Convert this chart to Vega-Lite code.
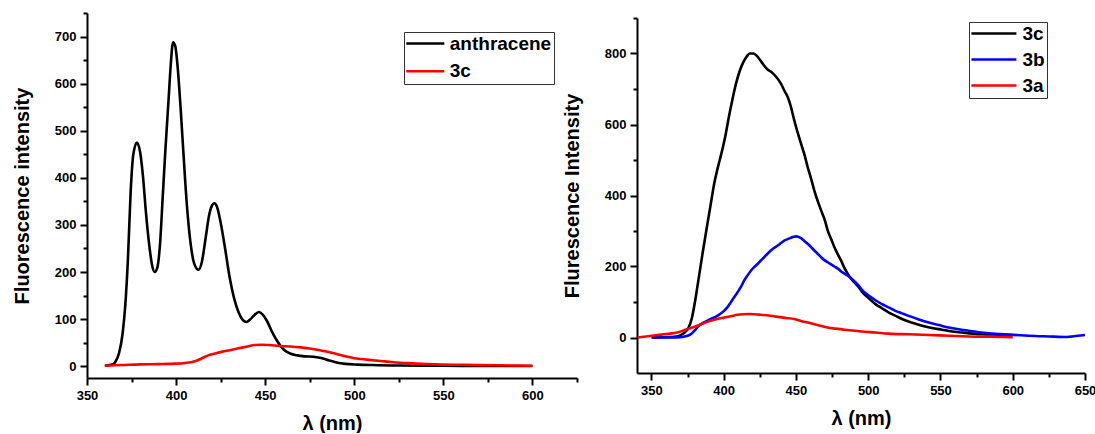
{
  "$schema": "https://vega.github.io/schema/vega-lite/v6.json",
  "padding": {"left": 12, "top": 12, "right": 0, "bottom": 0},
  "bounds": "flush",
  "center": true,
  "spacing": 60,
  "resolve": {"scale": {"color": "independent"}, "legend": {"color": "independent"}},
  "config": {
    "font": "Liberation Sans",
    "view": {"stroke": null},
    "axis": {
      "grid": false,
      "domainColor": "black", "domainWidth": 2,
      "tickColor": "black", "tickWidth": 2, "tickSize": 7,
      "labelFont": "Liberation Sans", "labelFontWeight": "bold", "labelFontSize": 13, "labelColor": "black", "labelPadding": 4,
      "titleFont": "Liberation Sans", "titleFontWeight": "bold", "titleFontSize": 20, "titleColor": "black"
    },
    "legend": {
      "labelFont": "Liberation Sans", "labelFontWeight": "bold", "labelFontSize": 19, "labelColor": "black",
      "strokeColor": "#333333", "strokeWidth": 1, "padding": 2,
      "symbolSize": 100, "symbolStrokeWidth": 2.5, "title": null
    }
  },
  "datasets": {
    "left": [
      {"nm": 360, "I": 1, "series": "anthracene"},
      {"nm": 364.7, "I": 4, "series": "anthracene"},
      {"nm": 366, "I": 10, "series": "anthracene"},
      {"nm": 368, "I": 28, "series": "anthracene"},
      {"nm": 370, "I": 70, "series": "anthracene"},
      {"nm": 371.5, "I": 130, "series": "anthracene"},
      {"nm": 373, "I": 230, "series": "anthracene"},
      {"nm": 374.5, "I": 370, "series": "anthracene"},
      {"nm": 376, "I": 450, "series": "anthracene"},
      {"nm": 378, "I": 475, "series": "anthracene"},
      {"nm": 379.8, "I": 455, "series": "anthracene"},
      {"nm": 381.5, "I": 400, "series": "anthracene"},
      {"nm": 383, "I": 330, "series": "anthracene"},
      {"nm": 385, "I": 255, "series": "anthracene"},
      {"nm": 386.5, "I": 215, "series": "anthracene"},
      {"nm": 388, "I": 200, "series": "anthracene"},
      {"nm": 389.5, "I": 210, "series": "anthracene"},
      {"nm": 391, "I": 260, "series": "anthracene"},
      {"nm": 392.5, "I": 360, "series": "anthracene"},
      {"nm": 394, "I": 460, "series": "anthracene"},
      {"nm": 395.8, "I": 567, "series": "anthracene"},
      {"nm": 397, "I": 640, "series": "anthracene"},
      {"nm": 398.3, "I": 688, "series": "anthracene"},
      {"nm": 399.5, "I": 680, "series": "anthracene"},
      {"nm": 401, "I": 630, "series": "anthracene"},
      {"nm": 402.5, "I": 550, "series": "anthracene"},
      {"nm": 404, "I": 460, "series": "anthracene"},
      {"nm": 406, "I": 345, "series": "anthracene"},
      {"nm": 408, "I": 265, "series": "anthracene"},
      {"nm": 410, "I": 220, "series": "anthracene"},
      {"nm": 412.5, "I": 205, "series": "anthracene"},
      {"nm": 414.5, "I": 222, "series": "anthracene"},
      {"nm": 416.5, "I": 270, "series": "anthracene"},
      {"nm": 418.5, "I": 320, "series": "anthracene"},
      {"nm": 420, "I": 340, "series": "anthracene"},
      {"nm": 421.5, "I": 346, "series": "anthracene"},
      {"nm": 423, "I": 338, "series": "anthracene"},
      {"nm": 425, "I": 305, "series": "anthracene"},
      {"nm": 427.5, "I": 250, "series": "anthracene"},
      {"nm": 430, "I": 190, "series": "anthracene"},
      {"nm": 432.5, "I": 145, "series": "anthracene"},
      {"nm": 435, "I": 115, "series": "anthracene"},
      {"nm": 437.5, "I": 98, "series": "anthracene"},
      {"nm": 439.5, "I": 94, "series": "anthracene"},
      {"nm": 441.5, "I": 99, "series": "anthracene"},
      {"nm": 444, "I": 109, "series": "anthracene"},
      {"nm": 446.5, "I": 115, "series": "anthracene"},
      {"nm": 448.5, "I": 110, "series": "anthracene"},
      {"nm": 451, "I": 96, "series": "anthracene"},
      {"nm": 454, "I": 72, "series": "anthracene"},
      {"nm": 457, "I": 52, "series": "anthracene"},
      {"nm": 460.5, "I": 35, "series": "anthracene"},
      {"nm": 464, "I": 27, "series": "anthracene"},
      {"nm": 468, "I": 23, "series": "anthracene"},
      {"nm": 472, "I": 21, "series": "anthracene"},
      {"nm": 477, "I": 20, "series": "anthracene"},
      {"nm": 482, "I": 17, "series": "anthracene"},
      {"nm": 486, "I": 12, "series": "anthracene"},
      {"nm": 490, "I": 8, "series": "anthracene"},
      {"nm": 495, "I": 5, "series": "anthracene"},
      {"nm": 502, "I": 3.5, "series": "anthracene"},
      {"nm": 510, "I": 2.5, "series": "anthracene"},
      {"nm": 525, "I": 1.5, "series": "anthracene"},
      {"nm": 550, "I": 1, "series": "anthracene"},
      {"nm": 575, "I": 0.5, "series": "anthracene"},
      {"nm": 600, "I": 0.5, "series": "anthracene"},
      {"nm": 360, "I": 1, "series": "3c"},
      {"nm": 370, "I": 2.5, "series": "3c"},
      {"nm": 380, "I": 4, "series": "3c"},
      {"nm": 390, "I": 4.5, "series": "3c"},
      {"nm": 400, "I": 5.5, "series": "3c"},
      {"nm": 405, "I": 7, "series": "3c"},
      {"nm": 410, "I": 10, "series": "3c"},
      {"nm": 414, "I": 16, "series": "3c"},
      {"nm": 418, "I": 23, "series": "3c"},
      {"nm": 422, "I": 27, "series": "3c"},
      {"nm": 426, "I": 31, "series": "3c"},
      {"nm": 430, "I": 34, "series": "3c"},
      {"nm": 435, "I": 38, "series": "3c"},
      {"nm": 440, "I": 42, "series": "3c"},
      {"nm": 444, "I": 45, "series": "3c"},
      {"nm": 448, "I": 45.5, "series": "3c"},
      {"nm": 452, "I": 45, "series": "3c"},
      {"nm": 458, "I": 43, "series": "3c"},
      {"nm": 464, "I": 42, "series": "3c"},
      {"nm": 470, "I": 40, "series": "3c"},
      {"nm": 476, "I": 37, "series": "3c"},
      {"nm": 482, "I": 33, "series": "3c"},
      {"nm": 488, "I": 28, "series": "3c"},
      {"nm": 494, "I": 22, "series": "3c"},
      {"nm": 500, "I": 17, "series": "3c"},
      {"nm": 507, "I": 14, "series": "3c"},
      {"nm": 515, "I": 11, "series": "3c"},
      {"nm": 522, "I": 8.5, "series": "3c"},
      {"nm": 530, "I": 6.5, "series": "3c"},
      {"nm": 545, "I": 4, "series": "3c"},
      {"nm": 560, "I": 3, "series": "3c"},
      {"nm": 580, "I": 2, "series": "3c"},
      {"nm": 600, "I": 1, "series": "3c"}
    ],
    "right": [
      {"nm": 350, "I": 0, "series": "3c"},
      {"nm": 360, "I": 0.5, "series": "3c"},
      {"nm": 366, "I": 2, "series": "3c"},
      {"nm": 370, "I": 6, "series": "3c"},
      {"nm": 373, "I": 14, "series": "3c"},
      {"nm": 375.5, "I": 26, "series": "3c"},
      {"nm": 378, "I": 55, "series": "3c"},
      {"nm": 380.5, "I": 110, "series": "3c"},
      {"nm": 383, "I": 175, "series": "3c"},
      {"nm": 385.5, "I": 240, "series": "3c"},
      {"nm": 388.5, "I": 315, "series": "3c"},
      {"nm": 391, "I": 375, "series": "3c"},
      {"nm": 393.5, "I": 435, "series": "3c"},
      {"nm": 396, "I": 480, "series": "3c"},
      {"nm": 398.5, "I": 520, "series": "3c"},
      {"nm": 401, "I": 565, "series": "3c"},
      {"nm": 403.5, "I": 620, "series": "3c"},
      {"nm": 406, "I": 670, "series": "3c"},
      {"nm": 408.5, "I": 715, "series": "3c"},
      {"nm": 411, "I": 750, "series": "3c"},
      {"nm": 413.5, "I": 775, "series": "3c"},
      {"nm": 416, "I": 792, "series": "3c"},
      {"nm": 418, "I": 800, "series": "3c"},
      {"nm": 420.6, "I": 800, "series": "3c"},
      {"nm": 423.4, "I": 791, "series": "3c"},
      {"nm": 426.9, "I": 772, "series": "3c"},
      {"nm": 430.3, "I": 755, "series": "3c"},
      {"nm": 433, "I": 748, "series": "3c"},
      {"nm": 435.5, "I": 738, "series": "3c"},
      {"nm": 439.6, "I": 715, "series": "3c"},
      {"nm": 442, "I": 695, "series": "3c"},
      {"nm": 444.2, "I": 678, "series": "3c"},
      {"nm": 446.5, "I": 650, "series": "3c"},
      {"nm": 448.8, "I": 612, "series": "3c"},
      {"nm": 451, "I": 580, "series": "3c"},
      {"nm": 453.5, "I": 546, "series": "3c"},
      {"nm": 456, "I": 513, "series": "3c"},
      {"nm": 458.1, "I": 480, "series": "3c"},
      {"nm": 460.5, "I": 447, "series": "3c"},
      {"nm": 462.7, "I": 414, "series": "3c"},
      {"nm": 465, "I": 385, "series": "3c"},
      {"nm": 467.4, "I": 358, "series": "3c"},
      {"nm": 470, "I": 330, "series": "3c"},
      {"nm": 472, "I": 301, "series": "3c"},
      {"nm": 474.5, "I": 276, "series": "3c"},
      {"nm": 476.6, "I": 254, "series": "3c"},
      {"nm": 479, "I": 234, "series": "3c"},
      {"nm": 481.3, "I": 216, "series": "3c"},
      {"nm": 483.5, "I": 196, "series": "3c"},
      {"nm": 485.9, "I": 179, "series": "3c"},
      {"nm": 488, "I": 166, "series": "3c"},
      {"nm": 490.5, "I": 155, "series": "3c"},
      {"nm": 493, "I": 144, "series": "3c"},
      {"nm": 495.5, "I": 130, "series": "3c"},
      {"nm": 500, "I": 112, "series": "3c"},
      {"nm": 505, "I": 94, "series": "3c"},
      {"nm": 510, "I": 81, "series": "3c"},
      {"nm": 514, "I": 71, "series": "3c"},
      {"nm": 519, "I": 61, "series": "3c"},
      {"nm": 523.4, "I": 52, "series": "3c"},
      {"nm": 530, "I": 42, "series": "3c"},
      {"nm": 537.3, "I": 33, "series": "3c"},
      {"nm": 544, "I": 27, "series": "3c"},
      {"nm": 551, "I": 22, "series": "3c"},
      {"nm": 558, "I": 17, "series": "3c"},
      {"nm": 565, "I": 14, "series": "3c"},
      {"nm": 572, "I": 11, "series": "3c"},
      {"nm": 579, "I": 9, "series": "3c"},
      {"nm": 590, "I": 8, "series": "3c"},
      {"nm": 600, "I": 7, "series": "3c"},
      {"nm": 350.5, "I": 0, "series": "3b"},
      {"nm": 363, "I": 0, "series": "3b"},
      {"nm": 370, "I": 1, "series": "3b"},
      {"nm": 373, "I": 3, "series": "3b"},
      {"nm": 377, "I": 9, "series": "3b"},
      {"nm": 380, "I": 20, "series": "3b"},
      {"nm": 382, "I": 30, "series": "3b"},
      {"nm": 386, "I": 42, "series": "3b"},
      {"nm": 391, "I": 52, "series": "3b"},
      {"nm": 395.6, "I": 61, "series": "3b"},
      {"nm": 400.2, "I": 75, "series": "3b"},
      {"nm": 402.5, "I": 85, "series": "3b"},
      {"nm": 404.9, "I": 99, "series": "3b"},
      {"nm": 407, "I": 112, "series": "3b"},
      {"nm": 409.5, "I": 127, "series": "3b"},
      {"nm": 412, "I": 143, "series": "3b"},
      {"nm": 414.1, "I": 160, "series": "3b"},
      {"nm": 416.5, "I": 175, "series": "3b"},
      {"nm": 418.8, "I": 188, "series": "3b"},
      {"nm": 421, "I": 198, "series": "3b"},
      {"nm": 423.4, "I": 207, "series": "3b"},
      {"nm": 425.7, "I": 217, "series": "3b"},
      {"nm": 428, "I": 226, "series": "3b"},
      {"nm": 430.3, "I": 236, "series": "3b"},
      {"nm": 432.6, "I": 245, "series": "3b"},
      {"nm": 435, "I": 253, "series": "3b"},
      {"nm": 437.3, "I": 259, "series": "3b"},
      {"nm": 439.6, "I": 266, "series": "3b"},
      {"nm": 441.9, "I": 273, "series": "3b"},
      {"nm": 444.2, "I": 277, "series": "3b"},
      {"nm": 446.5, "I": 281, "series": "3b"},
      {"nm": 448.5, "I": 284, "series": "3b"},
      {"nm": 450, "I": 285, "series": "3b"},
      {"nm": 451.5, "I": 284, "series": "3b"},
      {"nm": 453.5, "I": 280, "series": "3b"},
      {"nm": 455.8, "I": 272, "series": "3b"},
      {"nm": 458.1, "I": 264, "series": "3b"},
      {"nm": 460.4, "I": 255, "series": "3b"},
      {"nm": 462.7, "I": 245, "series": "3b"},
      {"nm": 465, "I": 236, "series": "3b"},
      {"nm": 467.4, "I": 226, "series": "3b"},
      {"nm": 469.7, "I": 218, "series": "3b"},
      {"nm": 472, "I": 212, "series": "3b"},
      {"nm": 474.3, "I": 206, "series": "3b"},
      {"nm": 476.6, "I": 200, "series": "3b"},
      {"nm": 479, "I": 194, "series": "3b"},
      {"nm": 481.3, "I": 186, "series": "3b"},
      {"nm": 483.6, "I": 180, "series": "3b"},
      {"nm": 485.9, "I": 174, "series": "3b"},
      {"nm": 488.2, "I": 167, "series": "3b"},
      {"nm": 490.5, "I": 158, "series": "3b"},
      {"nm": 493, "I": 148, "series": "3b"},
      {"nm": 495.5, "I": 135, "series": "3b"},
      {"nm": 500.3, "I": 118, "series": "3b"},
      {"nm": 505, "I": 105, "series": "3b"},
      {"nm": 509.5, "I": 94, "series": "3b"},
      {"nm": 514, "I": 85, "series": "3b"},
      {"nm": 518.8, "I": 75, "series": "3b"},
      {"nm": 523.4, "I": 68, "series": "3b"},
      {"nm": 528, "I": 61, "series": "3b"},
      {"nm": 535, "I": 51, "series": "3b"},
      {"nm": 541.9, "I": 42, "series": "3b"},
      {"nm": 548.8, "I": 35, "series": "3b"},
      {"nm": 555.7, "I": 28, "series": "3b"},
      {"nm": 562.6, "I": 23, "series": "3b"},
      {"nm": 569.6, "I": 19, "series": "3b"},
      {"nm": 576.5, "I": 15, "series": "3b"},
      {"nm": 583.4, "I": 12, "series": "3b"},
      {"nm": 591, "I": 10, "series": "3b"},
      {"nm": 599.8, "I": 7.5, "series": "3b"},
      {"nm": 611.2, "I": 5, "series": "3b"},
      {"nm": 625, "I": 3, "series": "3b"},
      {"nm": 636.5, "I": 1.5, "series": "3b"},
      {"nm": 640, "I": 2.5, "series": "3b"},
      {"nm": 643.5, "I": 4, "series": "3b"},
      {"nm": 650, "I": 7, "series": "3b"},
      {"nm": 340.5, "I": 0, "series": "3a"},
      {"nm": 345, "I": 2, "series": "3a"},
      {"nm": 350, "I": 5, "series": "3a"},
      {"nm": 354, "I": 7, "series": "3a"},
      {"nm": 358.6, "I": 9, "series": "3a"},
      {"nm": 363, "I": 11, "series": "3a"},
      {"nm": 367.8, "I": 14, "series": "3a"},
      {"nm": 371, "I": 18, "series": "3a"},
      {"nm": 374.8, "I": 24, "series": "3a"},
      {"nm": 378, "I": 28, "series": "3a"},
      {"nm": 381.7, "I": 33, "series": "3a"},
      {"nm": 386, "I": 40, "series": "3a"},
      {"nm": 391, "I": 47, "series": "3a"},
      {"nm": 395.5, "I": 52, "series": "3a"},
      {"nm": 400.2, "I": 56, "series": "3a"},
      {"nm": 405, "I": 60, "series": "3a"},
      {"nm": 409.5, "I": 64, "series": "3a"},
      {"nm": 413.5, "I": 65.5, "series": "3a"},
      {"nm": 417.6, "I": 66, "series": "3a"},
      {"nm": 421.5, "I": 65.5, "series": "3a"},
      {"nm": 425.7, "I": 64, "series": "3a"},
      {"nm": 431, "I": 62, "series": "3a"},
      {"nm": 437.3, "I": 58, "series": "3a"},
      {"nm": 443, "I": 55, "series": "3a"},
      {"nm": 448.8, "I": 52, "series": "3a"},
      {"nm": 454, "I": 46, "series": "3a"},
      {"nm": 460.4, "I": 40, "series": "3a"},
      {"nm": 466, "I": 34, "series": "3a"},
      {"nm": 472, "I": 28, "series": "3a"},
      {"nm": 477.3, "I": 25, "series": "3a"},
      {"nm": 483.6, "I": 22, "series": "3a"},
      {"nm": 489, "I": 19.5, "series": "3a"},
      {"nm": 495.1, "I": 17, "series": "3a"},
      {"nm": 505, "I": 14, "series": "3a"},
      {"nm": 514.2, "I": 11, "series": "3a"},
      {"nm": 528, "I": 9, "series": "3a"},
      {"nm": 541.9, "I": 7, "series": "3a"},
      {"nm": 556, "I": 5, "series": "3a"},
      {"nm": 569.6, "I": 3, "series": "3a"},
      {"nm": 585, "I": 2, "series": "3a"},
      {"nm": 600, "I": 1, "series": "3a"}
    ]
  },
  "hconcat": [
    {
      "width": 490,
      "height": 365,
      "data": {"name": "left"},
      "resolve": {"axis": {"x": "independent", "y": "independent"}},
      "layer": [
        {
          "mark": {"type": "line", "strokeWidth": 2.6, "interpolate": "monotone"},
          "encoding": {
            "x": {"field": "nm", "type": "quantitative",
                  "scale": {"domain": [350, 625], "nice": false, "zero": false},
                  "axis": {"orient": "bottom", "values": [350, 400, 450, 500, 550, 600], "title": "λ (nm)", "titlePadding": 11, "labelFlush": false}},
            "y": {"field": "I", "type": "quantitative",
                  "scale": {"domain": [-25, 750], "nice": false, "zero": false},
                  "axis": {"orient": "left", "values": [0, 100, 200, 300, 400, 500, 600, 700], "title": "Fluorescence intensity", "titlePadding": 22}},
            "color": {"field": "series", "type": "nominal",
                      "scale": {"domain": ["anthracene", "3c"], "range": ["#000000", "#ff0000"]},
                      "legend": {"orient": "none", "legendX": 317, "legendY": 19, "symbolType": "M-3.8,0H3.8", "symbolOffset": 9.8, "labelOffset": 15, "rowPadding": 7.7}}
          }
        },
        {
          "mark": {"type": "line", "opacity": 0},
          "encoding": {
            "x": {"field": "nm", "type": "quantitative",
                  "axis": {"orient": "bottom", "values": [375, 425, 475, 525, 575, 625], "labels": false, "domain": false, "tickSize": 4, "title": null}},
            "y": {"field": "I", "type": "quantitative",
                  "axis": {"orient": "left", "values": [50, 150, 250, 350, 450, 550, 650, 750], "labels": false, "domain": false, "tickSize": 4, "title": null}}
          }
        }
      ]
    },
    {
      "width": 448,
      "height": 355,
      "data": {"name": "right"},
      "resolve": {"axis": {"x": "independent", "y": "independent"}},
      "layer": [
        {
          "mark": {"type": "line", "strokeWidth": 2.6, "interpolate": "monotone"},
          "encoding": {
            "x": {"field": "nm", "type": "quantitative",
                  "scale": {"domain": [340, 650], "nice": false, "zero": false},
                  "axis": {"orient": "bottom", "values": [350, 400, 450, 500, 550, 600, 650], "title": "λ (nm)", "titlePadding": 11, "labelFlush": false}},
            "y": {"field": "I", "type": "quantitative",
                  "scale": {"domain": [-100, 900], "nice": false, "zero": false},
                  "axis": {"orient": "left", "values": [0, 200, 400, 600, 800], "title": "Flurescence Intensity", "titlePadding": 22}},
            "color": {"field": "series", "type": "nominal",
                      "scale": {"domain": ["3c", "3b", "3a"], "range": ["#000000", "#0000ff", "#ff0000"]},
                      "legend": {"orient": "none", "legendX": 332, "legendY": 4, "symbolType": "M-4.5,0H4.5", "symbolOffset": 13.4, "labelOffset": 19, "rowPadding": 6}}
          }
        },
        {
          "mark": {"type": "line", "opacity": 0},
          "encoding": {
            "x": {"field": "nm", "type": "quantitative",
                  "axis": {"orient": "bottom", "values": [375, 425, 475, 525, 575, 625], "labels": false, "domain": false, "tickSize": 4, "title": null}},
            "y": {"field": "I", "type": "quantitative",
                  "axis": {"orient": "left", "values": [100, 300, 500, 700, 900], "labels": false, "domain": false, "tickSize": 4, "title": null}}
          }
        }
      ]
    }
  ]
}
